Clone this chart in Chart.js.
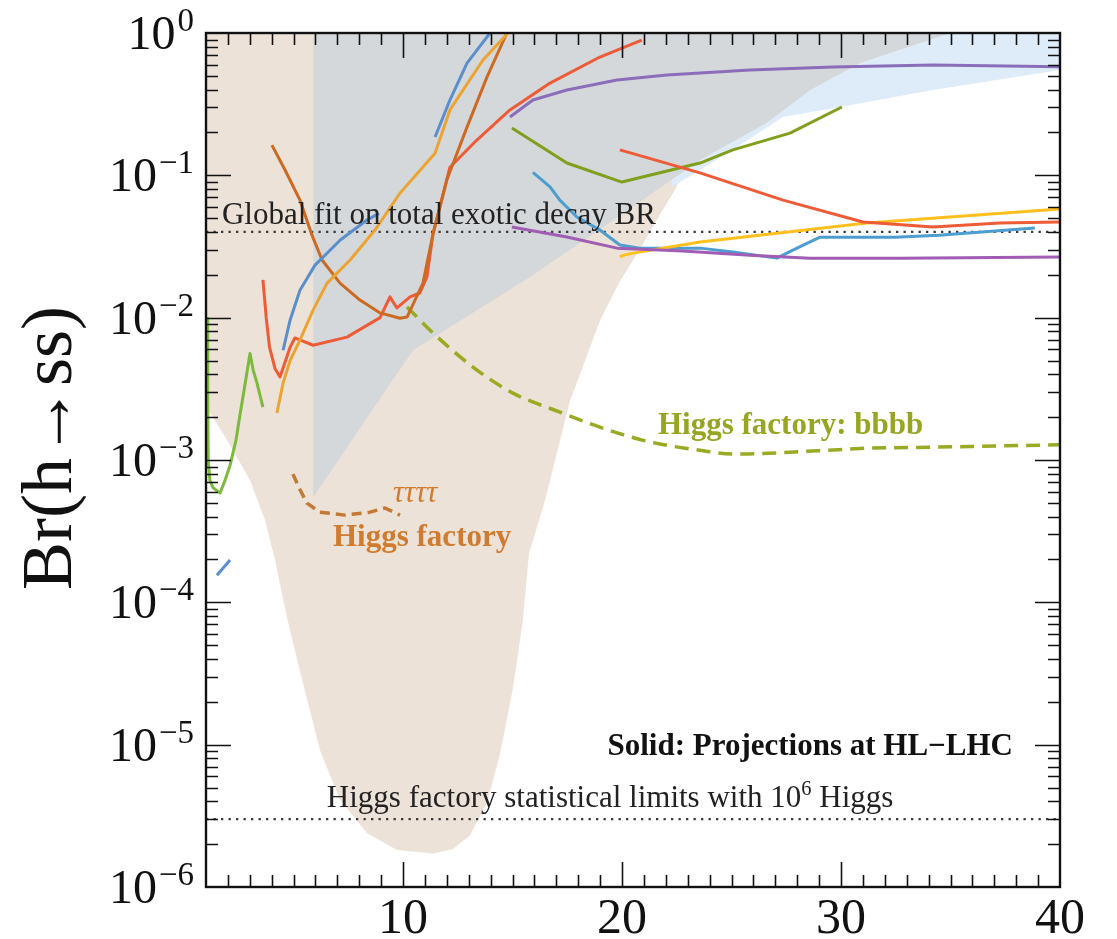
<!DOCTYPE html>
<html>
<head>
<meta charset="utf-8">
<style>
  html, body { margin: 0; padding: 0; background: #ffffff; }
  canvas { display: block; }
</style>
<script src="https://cdn.jsdelivr.net/npm/chart.js@4.4.1/dist/chart.umd.min.js"></script>
</head>
<body>
<canvas id="chart" width="1117" height="939"></canvas>
<script>
// ---- axis ticks ----
const xTickLabels = [10, 20, 30, 40];
const yTickExponents = [0, -1, -2, -3, -4, -5, -6];

// ---- shaded regions: [mass, branching ratio] outlines ----
const tanRegion = [
  [1, 1], [1, 2.32e-3], [1.32, 2.0e-3], [2.1, 1.27e-3], [3.01, 7.2e-4], [3.69, 3.8e-4],
  [4.15, 2.0e-4], [4.52, 1.05e-4], [4.84, 6.3e-5], [5.43, 2.7e-5], [6.21, 9.1e-6],
  [7.12, 4.1e-6], [8.35, 2.4e-6], [9.72, 1.82e-6], [11.37, 1.72e-6], [12.28, 1.85e-6],
  [13.05, 2.3e-6], [13.83, 3.9e-6], [14.42, 8.5e-6], [15.02, 2.5e-5], [15.47, 7.5e-5],
  [15.75, 2.2e-4], [16.48, 5.2e-4], [17.62, 2.6e-3], [18.99, 9.5e-3], [19.9, 1.8e-2],
  [20.8, 3.0e-2], [21.7, 5.2e-2], [22.5, 8.3e-2], [23.5, 1]
];
const greyRegion = [
  [5.9, 1], [5.9, 5.5e-4], [10.45, 5.9e-3], [15.8, 1.93e-2], [19.9, 5.2e-2],
  [23.56, 0.128], [26.6, 0.233], [28.6, 0.398], [30.9, 0.617], [35, 1]
];
const paleBlueRegion = [
  [21.5, 1], [22.3, 0.083], [23.56, 0.109], [25.06, 0.151], [27.35, 0.257],
  [29.95, 0.302], [34.2, 0.398], [40, 0.55], [40, 1]
];

// ---- HL-LHC projections (solid) ----
const steelBlueLow = [[4.52, 5.9e-3], [4.84, 9.6e-3], [5.29, 1.56e-2], [5.98, 2.34e-2], [7.12, 3.5e-2], [8.35, 4.85e-2], [8.9, 5.4e-2]];
const steelBlueHigh = [[11.46, 0.186], [12.14, 0.338], [12.92, 0.615], [13.97, 1.0]];
const steelBlueTiny = [[1.5, 1.55e-4], [2.1, 1.98e-4]];
const amberCurve = [[4.24, 2.14e-3], [4.52, 3.47e-3], [4.84, 5.0e-3], [5.29, 6.96e-3], [5.89, 1.13e-2], [6.53, 1.75e-2], [7.58, 2.54e-2], [8.72, 4.13e-2], [9.86, 7.5e-2], [11.46, 0.143], [12.14, 0.288], [13.65, 0.646], [14.79, 1.0]];
const brownCurve = [[4.01, 0.163], [4.61, 0.109], [5.29, 6.7e-2], [5.84, 3.8e-2], [6.3, 2.54e-2], [7.12, 1.75e-2], [8.03, 1.33e-2], [8.95, 1.08e-2], [9.86, 9.9e-3], [10.18, 1.01e-2], [10.91, 1.75e-2], [11.37, 3.9e-2], [12.0, 9.3e-2], [12.92, 0.218], [13.83, 0.49], [14.74, 1.0]];
const vermilionLow = [[3.6, 1.84e-2], [3.75, 1.0e-2], [3.9, 6.2e-3], [4.15, 4.4e-3], [4.38, 3.83e-3], [4.84, 6.2e-3], [5.06, 7.2e-3], [5.89, 6.4e-3], [7.44, 7.3e-3], [8.95, 1.0e-2], [9.4, 1.4e-2], [9.72, 1.17e-2], [10.32, 1.4e-2], [10.77, 1.49e-2], [11.09, 1.93e-2], [11.37, 3.9e-2], [12.14, 0.114], [13.37, 0.177], [14.88, 0.288], [16.71, 0.445], [18.99, 0.678], [20.9, 0.89]];
const vermilionHigh = [[19.9, 0.151], [23.56, 0.104], [27.35, 6.7e-2], [31.0, 4.7e-2], [34.2, 4.33e-2], [37.26, 4.62e-2], [40, 4.7e-2]];
const violetUpper = [[14.88, 0.257], [15.93, 0.338], [17.48, 0.398], [19.77, 0.468], [22.05, 0.507], [25.84, 0.55], [29.63, 0.577], [34.2, 0.596], [40, 0.58]];
const violetLower = [[14.97, 4.33e-2], [17.48, 3.69e-2], [19.77, 3.08e-2], [22.78, 2.94e-2], [25.84, 2.75e-2], [28.58, 2.62e-2], [32.7, 2.62e-2], [40, 2.67e-2]];
const goldCurve = [[19.9, 2.67e-2], [20.1, 2.75e-2], [20.5, 2.84e-2], [23.56, 3.4e-2], [31.18, 4.62e-2], [40, 5.8e-2]];
const skyBlueCurve = [[15.93, 0.105], [16.71, 8.3e-2], [17.16, 6.7e-2], [17.94, 5.1e-2], [18.99, 4.13e-2], [19.9, 3.24e-2], [20.8, 3.08e-2], [23.56, 3.08e-2], [25.06, 2.89e-2], [27.07, 2.62e-2], [27.8, 2.98e-2], [29.04, 3.68e-2], [32.46, 3.68e-2], [34.47, 3.8e-2], [38.85, 4.27e-2]];
const oliveCurve = [[14.97, 0.215], [17.48, 0.122], [19.99, 8.97e-2], [23.56, 0.122], [25.06, 0.151], [27.67, 0.198], [30.04, 0.302]];
const limeCurve = [[1.08, 9.9e-3], [1.08, 5e-3], [1.08, 2.6e-3], [1.1, 1.0e-3], [1.18, 7.2e-4], [1.32, 6.4e-4], [1.64, 5.85e-4], [1.87, 7.2e-4], [2.1, 9.2e-4], [2.37, 1.38e-3], [2.55, 2.07e-3], [2.74, 3.1e-3], [3.01, 5.6e-3], [3.15, 4.3e-3], [3.33, 3.47e-3], [3.6, 2.35e-3]];

// ---- Higgs factory projections (dashed) ----
const bbbbFactory = [[10.18, 1.19e-2], [11.37, 7.8e-3], [13.19, 4.5e-3], [15.02, 2.95e-3], [17.16, 2.17e-3], [18.99, 1.7e-3], [21.27, 1.34e-3], [23.56, 1.17e-3], [25.06, 1.1e-3], [28.9, 1.16e-3], [31.18, 1.21e-3], [34.2, 1.23e-3], [40, 1.28e-3]];
const tauFactory = [[4.97, 7.96e-4], [5.29, 6.2e-4], [5.61, 4.98e-4], [6.2, 4.3e-4], [7.35, 4.1e-4], [8.49, 4.3e-4], [9.17, 4.6e-4], [9.86, 4.1e-4]];

// ---- horizontal reference levels ----
const globalFitBR = 0.04;
const factoryStatLimit = 3e-6;
const xRange = [1, 40];

const SERIF = '"Liberation Serif", "Times New Roman", serif';
const fnt = (size, weight = 'normal', style = 'normal') => `${style} ${weight} ${size}px ${SERIF}`;
const pts = arr => arr.map(([x, y]) => ({ x, y }));

function region(points, color, order) {
  return {
    data: pts(points), showLine: true, fill: 'shape', backgroundColor: color,
    borderColor: 'rgba(0,0,0,0)', borderWidth: 0, pointRadius: 0, order
  };
}
function curve(points, color, extra = {}) {
  return Object.assign({
    data: pts(points), showLine: true, fill: false, borderColor: color,
    borderWidth: 3, pointRadius: 0, tension: 0, order: 1,
    borderJoinStyle: 'round', borderCapStyle: 'butt'
  }, extra);
}
function level(value, color) {
  return curve([[xRange[0], value], [xRange[1], value]], color,
    { borderWidth: 2.3, borderDash: [2.3, 5.2], order: 2 });
}

const datasets = [
  region(tanRegion, '#ece2d7', 10),
  region(paleBlueRegion, '#deecf9', 9),
  region(greyRegion, '#d5d8db', 8),
  level(globalFitBR, '#3a3a3a'),
  level(factoryStatLimit, '#3a3a3a'),
  curve(limeCurve, '#7cb93c'),
  curve(steelBlueTiny, '#5b8fcc'),
  curve(steelBlueLow, '#5b8fcc'),
  curve(steelBlueHigh, '#5b8fcc'),
  curve(amberCurve, '#eba432'),
  curve(brownCurve, '#cc6a22'),
  curve(vermilionLow, '#ee5b37'),
  curve(vermilionHigh, '#ee5b37'),
  curve(violetUpper, '#8b6db9'),
  curve(violetLower, '#a05db3'),
  curve(goldCurve, '#ffbf1c'),
  curve(skyBlueCurve, '#4d9dd0'),
  curve(oliveCurve, '#7f9f1d'),
  curve(bbbbFactory, '#9aaa22', { borderWidth: 3.5, borderDash: [14, 8], cubicInterpolationMode: 'monotone' }),
  curve(tauFactory, '#c27a34', { borderWidth: 3.5, borderDash: [10, 6] })
];

// text made of plain and superscript runs, left aligned at (x, baseline)
function richText(ctx, runs, x, y, size, weight = 'normal') {
  let cx = x;
  for (const r of runs) {
    const s = r.sup ? size * 0.66 : size;
    ctx.font = fnt(s, weight);
    ctx.fillText(r.t, cx, r.sup ? y - size * 0.38 : y);
    cx += ctx.measureText(r.t).width;
  }
}

const axisDecor = {
  id: 'axisDecor',
  afterDatasetsDraw(chart) {
    const { ctx, chartArea: a, scales: { x, y } } = chart;
    ctx.save();
    ctx.strokeStyle = '#111111';
    ctx.lineWidth = 1.6;
    ctx.beginPath();
    for (let v = 2; v < 40; v++) {
      const px = Math.round(x.getPixelForValue(v)) + 0.5;
      const len = v % 10 === 0 ? 25 : 12;
      ctx.moveTo(px, a.bottom); ctx.lineTo(px, a.bottom - len);
      ctx.moveTo(px, a.top); ctx.lineTo(px, a.top + len);
    }
    for (let d = -6; d < 0; d++) {
      for (let m = 1; m < 10; m++) {
        if (m === 1 && d === -6) continue;
        const py = Math.round(y.getPixelForValue(m * Math.pow(10, d))) + 0.5;
        const len = m === 1 ? 25 : 12;
        ctx.moveTo(a.left, py); ctx.lineTo(a.left + len, py);
        ctx.moveTo(a.right, py); ctx.lineTo(a.right - len, py);
      }
    }
    ctx.stroke();
    ctx.lineWidth = 2.4;
    ctx.strokeRect(a.left, a.top, a.right - a.left, a.bottom - a.top);

    // tick labels
    ctx.fillStyle = '#111111';
    ctx.textBaseline = 'alphabetic';
    const mainSize = 48, supSize = 33;
    for (const e of yTickExponents) {
      const py = y.getPixelForValue(Math.pow(10, e));
      const sup = e < 0 ? '\u2212' + Math.abs(e) : String(e);
      ctx.font = fnt(supSize);
      const ws = ctx.measureText(sup).width;
      const right = a.left - 12;
      ctx.textAlign = 'left';
      ctx.fillText(sup, right - ws, py - 2);
      ctx.font = fnt(mainSize);
      ctx.textAlign = 'right';
      ctx.fillText('10', right - ws - 2, py + 16);
    }
    ctx.font = fnt(50);
    ctx.textAlign = 'center';
    ctx.textBaseline = 'top';
    for (const v of xTickLabels) {
      ctx.fillText(String(v), x.getPixelForValue(v), a.bottom + 8);
    }

    // y axis title
    ctx.save();
    ctx.translate(52, 448);
    ctx.rotate(-Math.PI / 2);
    ctx.font = fnt(72);
    ctx.textAlign = 'center';
    ctx.textBaseline = 'middle';
    ctx.fillText('Br(h\u2192ss)', 0, 0);
    ctx.restore();

    // annotations
    ctx.textBaseline = 'alphabetic';
    ctx.textAlign = 'left';
    ctx.fillStyle = '#222222';
    ctx.font = fnt(31);
    ctx.fillText('Global fit on total exotic decay BR', x.getPixelForValue(1.73), y.getPixelForValue(globalFitBR) - 8);
    richText(ctx, [{ t: 'Higgs factory statistical limits with 10' }, { t: '6', sup: true }, { t: ' Higgs' }],
      x.getPixelForValue(6.52), y.getPixelForValue(factoryStatLimit) - 12, 31);

    ctx.fillStyle = '#111111';
    ctx.font = fnt(31, 'bold');
    ctx.textAlign = 'right';
    ctx.fillText('Solid: Projections at HL\u2212LHC', x.getPixelForValue(37.85), y.getPixelForValue(8.4e-6));

    ctx.textAlign = 'left';
    ctx.fillStyle = '#97a520';
    ctx.font = fnt(31, 'bold');
    ctx.fillText('Higgs factory: bbbb', x.getPixelForValue(21.64), y.getPixelForValue(1.52e-3));

    ctx.fillStyle = '#cf7b30';
    ctx.fillText('Higgs factory', x.getPixelForValue(6.8), y.getPixelForValue(2.48e-4));
    ctx.font = fnt(31, 'normal', 'italic');
    ctx.fillText('\u03c4\u03c4\u03c4\u03c4', x.getPixelForValue(9.54), y.getPixelForValue(5.06e-4));
    ctx.restore();
  }
};

new Chart(document.getElementById('chart'), {
  type: 'scatter',
  data: { datasets },
  options: {
    responsive: false,
    animation: false,
    devicePixelRatio: 1,
    layout: { padding: { left: 206, right: 57, top: 33, bottom: 52 } },
    scales: {
      x: { type: 'linear', min: xRange[0], max: xRange[1], display: false },
      y: { type: 'logarithmic', min: 1e-6, max: 1, display: false }
    },
    plugins: { legend: { display: false }, tooltip: { enabled: false } },
    elements: { point: { radius: 0 } }
  },
  plugins: [axisDecor]
});
</script>
</body>
</html>
